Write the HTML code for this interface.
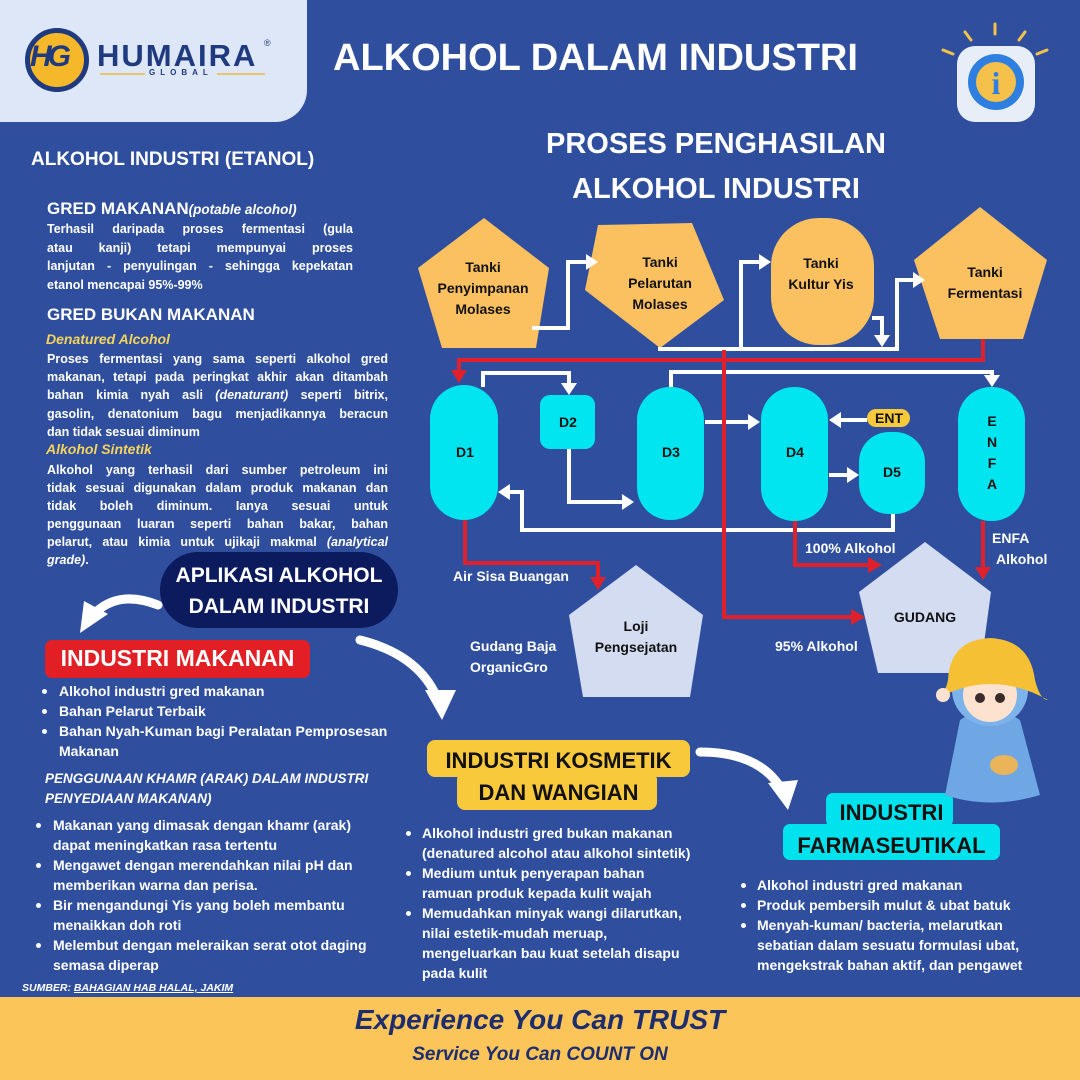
<!DOCTYPE html>
<html><head><meta charset="utf-8">
<style>
*{margin:0;padding:0;box-sizing:border-box}
body{width:1080px;height:1080px;overflow:hidden;background:#2f4f9e;font-family:"Liberation Sans",sans-serif;color:#fff;position:relative}
.a{position:absolute;white-space:nowrap}
.b{font-weight:bold}
.p{position:absolute;font-size:12.5px;font-weight:bold;line-height:18.5px}
.p div{white-space:nowrap}
.j{text-align:justify;text-align-last:justify}
.yl{color:#f6d35a;font-style:italic;font-weight:bold}
.li{position:absolute;font-size:14px;font-weight:bold;line-height:20px}
.li div{white-space:nowrap}
.dot{position:absolute;width:5px;height:5px;border-radius:50%;background:#fff}
</style></head><body>
<div style="position:absolute;left:0;top:0;width:307px;height:122px;background:#dde7f8;border-bottom-right-radius:32px"></div>
<div style="position:absolute;left:25px;top:28px;width:64px;height:64px;border-radius:50%;background:#f5b82a;border:5px solid #203a80"></div>
<div class="a b" style="left:30px;top:40px;font-size:30px;color:#203a80;font-style:italic;letter-spacing:-4px">HG</div>
<div class="a b" style="left:97px;top:38px;font-size:31px;color:#203a80;letter-spacing:2px">HUMAIRA</div>
<div class="a" style="left:264px;top:38px;font-size:9px;color:#203a80">®</div>
<div style="position:absolute;left:100px;top:73px;width:165px;height:2px;background:#e8c46a"></div>
<div class="a b" style="left:145px;top:68px;font-size:8px;color:#203a80;background:#dde7f8;padding:0 4px;letter-spacing:5px">GLOBAL</div>

<div class="a b" style="left:333px;top:37px;font-size:38px">ALKOHOL DALAM INDUSTRI</div>

<svg style="position:absolute;left:935px;top:20px" width="120" height="110">
<g stroke="#f5c14a" stroke-width="3" stroke-linecap="round">
<line x1="60" y1="4" x2="60" y2="14"/><line x1="30" y1="12" x2="36" y2="20"/><line x1="90" y1="12" x2="84" y2="20"/>
<line x1="8" y1="30" x2="18" y2="34"/><line x1="112" y1="30" x2="102" y2="34"/></g>
<rect x="22" y="26" width="78" height="76" rx="18" fill="#e8eef8"/>
<circle cx="61" cy="62" r="28" fill="#2f7fe0"/>
<circle cx="61" cy="62" r="20" fill="#f5c14a"/>
<text x="61" y="74" font-family="Liberation Serif" font-weight="bold" font-size="32" fill="#2f7fe0" text-anchor="middle">i</text>
</svg>

<div class="a b" style="left:31px;top:149px;font-size:19px">ALKOHOL INDUSTRI (ETANOL)</div>
<div class="a b" style="left:47px;top:199px;font-size:17px">GRED MAKANAN<span style="font-size:13.5px;font-style:italic">(potable alcohol)</span></div>
<div class="p" style="left:47px;top:220px;width:306px">
<div class="j">Terhasil daripada proses fermentasi (gula</div>
<div class="j">atau kanji) tetapi mempunyai proses</div>
<div class="j">lanjutan - penyulingan - sehingga kepekatan</div>
<div>etanol mencapai 95%-99%</div></div>
<div class="a b" style="left:47px;top:305px;font-size:17px">GRED BUKAN MAKANAN</div>
<div class="a yl" style="left:46px;top:331px;font-size:14px">Denatured Alcohol</div>
<div class="p" style="left:47px;top:350px;width:341px;line-height:18.2px">
<div class="j">Proses fermentasi yang sama seperti alkohol gred</div>
<div class="j">makanan, tetapi pada peringkat akhir akan ditambah</div>
<div class="j">bahan kimia nyah asli <i>(denaturant)</i> seperti bitrix,</div>
<div class="j">gasolin, denatonium bagu menjadikannya beracun</div>
<div>dan tidak sesuai diminum</div></div>
<div class="a yl" style="left:46px;top:441px;font-size:14px">Alkohol Sintetik</div>
<div class="p" style="left:47px;top:461px;width:341px;line-height:18px">
<div class="j">Alkohol yang terhasil dari sumber petroleum ini</div>
<div class="j">tidak sesuai digunakan dalam produk makanan dan</div>
<div class="j">tidak boleh diminum. Ianya sesuai untuk</div>
<div class="j">penggunaan luaran seperti bahan bakar, bahan</div>
<div class="j">pelarut, atau kimia untuk ujikaji makmal <i>(analytical</i></div>
<div><i>grade)</i>.</div></div>

<div style="position:absolute;left:160px;top:552px;width:238px;height:76px;border-radius:38px;background:#0c1a5e"></div>
<div class="a b" style="left:160px;top:560px;width:238px;text-align:center;font-size:21px;line-height:31px">APLIKASI ALKOHOL<br>DALAM INDUSTRI</div>

<svg style="position:absolute;left:0;top:0" width="1080" height="1080">
<g fill="none" stroke="#fff" stroke-width="9" stroke-linecap="round">
<path d="M158 605 Q120 590 96 612"/>
<path d="M360 640 Q420 655 438 700"/>
<path d="M700 752 Q760 752 782 790"/>
</g>
<polygon points="80,633 84,601 108,614" fill="#fff"/>
<polygon points="425,690 456,690 442,720" fill="#fff"/>
<polygon points="768,783 798,780 788,810" fill="#fff"/>
</svg>

<div style="position:absolute;left:45px;top:640px;width:265px;height:38px;border-radius:7px;background:#e31f26"></div>
<div class="a b" style="left:45px;top:645px;width:265px;text-align:center;font-size:23px">INDUSTRI MAKANAN</div>
<div class="li" style="left:59px;top:681px">
<div>Alkohol industri gred makanan</div><div>Bahan Pelarut Terbaik</div><div>Bahan Nyah-Kuman bagi Peralatan Pemprosesan</div><div>Makanan</div></div>
<div class="dot" style="left:42px;top:689px"></div><div class="dot" style="left:42px;top:709px"></div><div class="dot" style="left:42px;top:729px"></div>
<div class="a b" style="left:45px;top:769px;font-size:13.5px;font-style:italic;line-height:20px">PENGGUNAAN KHAMR (ARAK) DALAM INDUSTRI<br>PENYEDIAAN MAKANAN)</div>
<div class="li" style="left:53px;top:815px">
<div>Makanan yang dimasak dengan khamr (arak)</div><div>dapat meningkatkan rasa tertentu</div>
<div>Mengawet dengan merendahkan nilai pH dan</div><div>memberikan warna dan perisa.</div>
<div>Bir mengandungi Yis yang boleh membantu</div><div>menaikkan doh roti</div>
<div>Melembut dengan meleraikan serat otot daging</div><div>semasa diperap</div></div>
<div class="dot" style="left:36px;top:823px"></div><div class="dot" style="left:36px;top:863px"></div><div class="dot" style="left:36px;top:903px"></div><div class="dot" style="left:36px;top:943px"></div>
<div class="a b" style="left:22px;top:982px;font-size:10.5px;font-style:italic">SUMBER: <u>BAHAGIAN HAB HALAL, JAKIM</u></div>

<div style="position:absolute;left:427px;top:740px;width:263px;height:37px;border-radius:8px;background:#f8c93a"></div>
<div style="position:absolute;left:457px;top:772px;width:200px;height:38px;border-radius:8px;background:#f8c93a"></div>
<div class="a b" style="left:427px;top:745px;width:263px;text-align:center;font-size:22px;line-height:32px;color:#111">INDUSTRI KOSMETIK<br>DAN WANGIAN</div>
<div class="li" style="left:422px;top:823px">
<div>Alkohol industri gred bukan makanan</div><div>(denatured alcohol atau alkohol sintetik)</div>
<div>Medium untuk penyerapan bahan</div><div>ramuan produk kepada kulit wajah</div>
<div>Memudahkan minyak wangi dilarutkan,</div><div>nilai estetik-mudah meruap,</div><div>mengeluarkan bau kuat setelah disapu</div><div>pada kulit</div></div>
<div class="dot" style="left:406px;top:831px"></div><div class="dot" style="left:406px;top:871px"></div><div class="dot" style="left:406px;top:911px"></div>

<div style="position:absolute;left:826px;top:793px;width:127px;height:34px;border-radius:7px;background:#00e3ee"></div>
<div style="position:absolute;left:783px;top:824px;width:217px;height:36px;border-radius:7px;background:#00e3ee"></div>
<div class="a b" style="left:783px;top:796px;width:217px;text-align:center;font-size:22px;line-height:33px;color:#111">INDUSTRI<br>FARMASEUTIKAL</div>
<div class="li" style="left:757px;top:875px">
<div>Alkohol industri gred makanan</div><div>Produk pembersih mulut &amp; ubat batuk</div>
<div>Menyah-kuman/ bacteria, melarutkan</div><div>sebatian dalam sesuatu formulasi ubat,</div><div>mengekstrak bahan aktif, dan pengawet</div></div>
<div class="dot" style="left:741px;top:883px"></div><div class="dot" style="left:741px;top:903px"></div><div class="dot" style="left:741px;top:923px"></div>

<div class="a b" style="left:530px;top:122px;font-size:29px;line-height:45px;text-align:center;width:372px">PROSES PENGHASILAN<br>ALKOHOL INDUSTRI</div>
<svg style="position:absolute;left:0;top:0" width="1080" height="1080" font-family="Liberation Sans" font-weight="bold">
<g fill="#fbc05f">
<polygon points="484,218 549,268 536,348 442,348 418,268"/>
<polygon points="598,225 692,223 724,300 660,348 585,290"/>
<rect x="771" y="218" width="103" height="127" rx="48"/>
<polygon points="980,207 1047,260 1023,339 940,339 914,260"/>
</g>
<g fill="#111" font-size="14" text-anchor="middle">
<text x="483" y="272">Tanki</text><text x="483" y="293">Penyimpanan</text><text x="483" y="314">Molases</text>
<text x="660" y="267">Tanki</text><text x="660" y="288">Pelarutan</text><text x="660" y="309">Molases</text>
<text x="821" y="268">Tanki</text><text x="821" y="289">Kultur Yis</text>
<text x="985" y="277">Tanki</text><text x="985" y="298">Fermentasi</text>
</g>
<g fill="none" stroke="#fff" stroke-width="4">
<path d="M532 328 H568 V262 H588"/>
<path d="M658 349 H897 V280 H915"/>
<path d="M741 349 V262 H762"/>
<path d="M872 318 H882 V338"/>
<path d="M483 387 V373 H569 V387"/>
<path d="M569 449 V502 H626"/>
<path d="M671 387 V372 H992 V379"/>
<path d="M705 422 H752"/>
<path d="M867 420 H838"/>
<path d="M829 475 H851"/>
<path d="M893 514 V530 H522 V492 H507"/>
</g>
<g fill="#fff">
<polygon points="598,262 586,254 586,270"/>
<polygon points="925,280 913,272 913,288"/>
<polygon points="771,262 759,254 759,270"/>
<polygon points="882,347 874,335 890,335"/>
<polygon points="569,395 561,383 577,383"/>
<polygon points="634,502 622,494 622,510"/>
<polygon points="992,387 984,375 1000,375"/>
<polygon points="760,422 748,414 748,430"/>
<polygon points="829,420 841,412 841,428"/>
<polygon points="859,475 847,467 847,483"/>
<polygon points="498,492 510,484 510,500"/>
</g>
<g fill="none" stroke="#e0202a" stroke-width="4">
<path d="M983 339 V360 H459 V372"/>
<path d="M724 350 V617 H852"/>
<path d="M465 520 V563 H598 V578"/>
<path d="M795 521 V565 H872"/>
<path d="M983 521 V568"/>
</g>
<g fill="#e0202a">
<polygon points="459,383 451,370 467,370"/>
<polygon points="865,617 851,609 851,625"/>
<polygon points="598,590 590,577 606,577"/>
<polygon points="882,565 868,557 868,573"/>
<polygon points="983,580 975,567 991,567"/>
</g>
<g fill="#00e5f0">
<rect x="430" y="385" width="68" height="135" rx="34"/>
<rect x="540" y="395" width="55" height="54" rx="10"/>
<rect x="637" y="387" width="67" height="133" rx="33"/>
<rect x="761" y="387" width="67" height="134" rx="33"/>
<rect x="859" y="432" width="66" height="82" rx="30"/>
<rect x="958" y="387" width="67" height="134" rx="33"/>
</g>
<rect x="867" y="409" width="43" height="18" rx="9" fill="#f8c93a"/>
<g fill="#111" font-size="14" text-anchor="middle">
<text x="465" y="457">D1</text><text x="568" y="427">D2</text><text x="671" y="457">D3</text>
<text x="795" y="457">D4</text><text x="892" y="477">D5</text><text x="889" y="423">ENT</text>
<text x="992" y="426">E</text><text x="992" y="447">N</text><text x="992" y="468">F</text><text x="992" y="489">A</text>
</g>
<polygon points="636,565 703,615 690,697 583,697 569,615" fill="#d3dcf1"/>
<polygon points="925,542 991,592 980,673 878,673 859,592" fill="#d3dcf1"/>
<g fill="#111" font-size="14" text-anchor="middle">
<text x="636" y="631">Loji</text><text x="636" y="652">Pengsejatan</text>
<text x="925" y="622">GUDANG</text>
</g>
<g fill="#fff" font-size="14">
<text x="453" y="581">Air Sisa Buangan</text>
<text x="805" y="553">100% Alkohol</text>
<text x="992" y="543">ENFA</text><text x="996" y="564">Alkohol</text>
<text x="470" y="651">Gudang Baja</text><text x="470" y="672">OrganicGro</text>
<text x="775" y="651">95% Alkohol</text>
</g>
<ellipse cx="990" cy="790" rx="40" ry="12" fill="#a9c7ec"/>
<path d="M960 720 Q990 700 1020 720 L1040 795 Q990 810 945 795 Z" fill="#6fa6e4"/>
<ellipse cx="990" cy="690" rx="38" ry="36" fill="#7db3ea"/>
<ellipse cx="990" cy="695" rx="27" ry="27" fill="#fde2d0"/>
<path d="M948 680 Q950 640 990 638 Q1030 640 1035 680 Q1040 700 1048 700 Q990 668 935 700 Q945 695 948 680Z" fill="#f5c034"/>
<circle cx="980" cy="698" r="5" fill="#3b2a2a"/><circle cx="1000" cy="698" r="5" fill="#3b2a2a"/>
<ellipse cx="1004" cy="765" rx="14" ry="10" fill="#e9b45a"/>
<circle cx="943" cy="695" r="7" fill="#fde2d0"/>
</svg>

<div style="position:absolute;left:0;top:997px;width:1080px;height:83px;background:#fbc55a"></div>
<div class="a b" style="left:0;top:1004px;width:1080px;text-align:center;font-size:28px;font-style:italic;color:#1d2d6e">Experience You Can TRUST</div>
<div class="a b" style="left:0;top:1044px;width:1080px;text-align:center;font-size:19px;font-style:italic;color:#1d2d6e">Service You Can COUNT ON</div>
</body></html>
